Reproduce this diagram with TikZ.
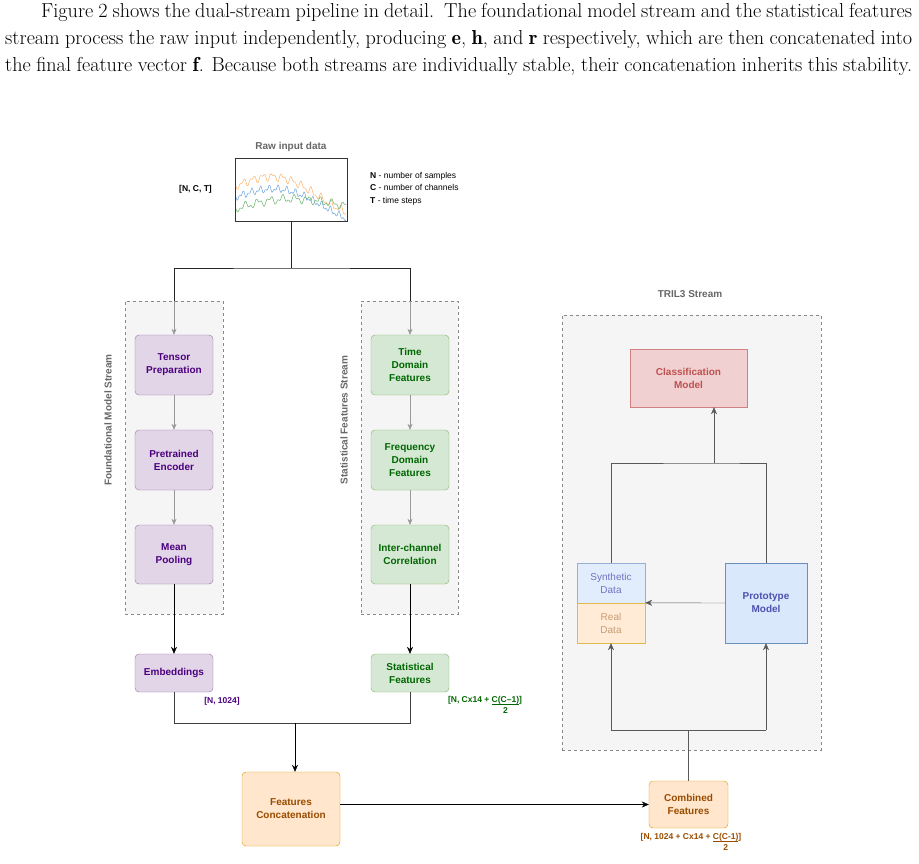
\documentclass[tikz,border=0pt]{standalone}
\usepackage{fontspec}
\setsansfont{Liberation Sans}
\usepackage{amsmath}
\usetikzlibrary{arrows.meta}
\definecolor{pf}{HTML}{E1D5E7}\definecolor{ps}{HTML}{9673A6}\definecolor{pt}{HTML}{4C0080}
\definecolor{gf}{HTML}{D5E8D4}\definecolor{gs}{HTML}{82B366}\definecolor{gt}{HTML}{006600}
\definecolor{of}{HTML}{FFE6CC}\definecolor{os}{HTML}{D79B00}\definecolor{ot}{HTML}{994C00}
\definecolor{bf}{HTML}{DAE8FC}\definecolor{bs}{HTML}{6C8EBF}\definecolor{bt}{HTML}{5050B0}
\definecolor{rf}{HTML}{F0D0D0}\definecolor{rs}{HTML}{D08080}\definecolor{rt}{HTML}{C05050}
\definecolor{cf}{HTML}{F5F5F5}\definecolor{cs}{HTML}{888888}
\tikzset{
 box/.style={draw, rounded corners=4pt, align=center, font=\sffamily\bfseries\fontsize{10}{13}\selectfont, inner sep=1pt},
 pbox/.style={box, fill=pf, draw=ps, text=pt},
 gbox/.style={box, fill=gf, draw=gs, text=gt},
 obox/.style={box, fill=of, draw=os, text=ot},
 cont/.style={draw=cs, dashed, fill=cf},
 garr/.style={draw=gray!80, -{Stealth[length=6pt,width=5pt]}},
 barr/.style={draw=black, -{Stealth[length=7pt,width=6pt]}},
 darr/.style={draw=black!65, -{Stealth[length=7pt,width=6pt]}},
 lbl/.style={font=\sffamily\bfseries\fontsize{8.5}{10}\selectfont, inner sep=0pt},
 ttl/.style={font=\sffamily\bfseries\fontsize{10}{12}\selectfont, text=black!60},
}
\begin{document}
\begin{tikzpicture}[x=1pt,y=-1pt]
\useasboundingbox (0,0) rectangle (919,863);
\node[anchor=north west, text width=907pt, align=justify, inner sep=0pt, font=\fontsize{20.2}{27}\selectfont] (para) at (5,3)
 {\hspace*{36pt}Figure 2 shows the dual-stream pipeline in detail.\enspace The foundational model stream and the statistical features stream process the raw input independently, producing $\mathbf{e}$, $\mathbf{h}$, and $\mathbf{r}$ respectively, which are then concatenated into the final feature vector $\mathbf{f}$. Because both streams are individually stable, their concatenation inherits this stability.};
% raw input
\node[ttl] (rawt) at (291,147) {Raw input data};
\node[draw=black!80, line width=0.8pt, minimum width=112pt, minimum height=63pt, inner sep=0pt] (raw) at (291,189.5) {};
\begin{scope}[line width=0.5pt]
\draw[orange!60] plot[domain=0:110, samples=111] ({236+\x},{186-14*sin(\x*2.2)+3*sin(\x*37)+2*sin(\x*71)+0.12*\x});
\draw[cyan!60!blue!60] plot[domain=0:110, samples=111] ({236+\x},{197-13*sin(\x*2.0)+2.5*sin(\x*41)+2*sin(\x*83)+0.12*\x});
\draw[green!50!black!60] plot[domain=0:110, samples=111] ({236+\x},{210-8*sin(\x*1.7+10)+3*sin(\x*29)+2*sin(\x*67)-0.06*\x});
\end{scope}
\node[lbl, anchor=east] (nct) at (212,189) {[N, C, T]};
\node[anchor=north west, align=left, inner sep=0pt, font=\sffamily\fontsize{8.5}{12.5}\selectfont] (legend) at (370,172) {\textbf{N} - number of samples\\\textbf{C} - number of channels\\\textbf{T} - time steps};
% containers
\node[cont, minimum width=98pt, minimum height=313pt, inner sep=0pt] (fc) at (174,457.5) {};
\node[cont, minimum width=97pt, minimum height=313pt, inner sep=0pt] (sc) at (409.5,457.5) {};
\node[ttl, rotate=90] (fcl) at (108,420) {Foundational Model Stream};
\node[ttl, rotate=90] (scl) at (344,420) {Statistical Features Stream};
\node[cont, minimum width=259pt, minimum height=435pt, inner sep=0pt] (tc) at (691.5,532.5) {};
\node[ttl] (tcl) at (690,294) {TRIL3 Stream};
% foundational
\node[pbox, minimum width=78pt, minimum height=60pt] (tp) at (174,365) {Tensor\\Preparation};
\node[pbox, minimum width=78pt, minimum height=60pt] (pe) at (174,460) {Pretrained\\Encoder};
\node[pbox, minimum width=78pt, minimum height=59pt] (mp) at (174,554.5) {Mean\\Pooling};
\node[pbox, minimum width=78pt, minimum height=38pt] (emb) at (174,673) {Embeddings};
\node[lbl, text=pt] (el) at (222,701) {[N, 1024]};
% statistical
\node[gbox, minimum width=78pt, minimum height=60pt] (td) at (410,365) {Time\\Domain\\Features};
\node[gbox, minimum width=78pt, minimum height=60pt] (fd) at (410,460) {Frequency\\Domain\\Features};
\node[gbox, minimum width=78pt, minimum height=59pt] (ic) at (410,554.5) {Inter-channel\\Correlation};
\node[gbox, minimum width=78pt, minimum height=38pt] (sf) at (410,673) {Statistical\\Features};
\node[lbl, text=gt, anchor=north] (sl) at (485,695) {[N, Cx14 + \begin{tabular}[t]{@{}c@{}}C(C--1)\\[-1pt]\hline\rule{0pt}{9pt}2\end{tabular}]};
% concat
\node[obox, minimum width=98pt, minimum height=74pt] (fcat) at (291,809) {Features\\Concatenation};
\node[obox, minimum width=79pt, minimum height=47pt] (cf) at (688.5,804.5) {Combined\\Features};
\node[lbl, text=ot, anchor=north] (cl) at (691,832) {[N, 1024 + Cx14 + \begin{tabular}[t]{@{}c@{}}C(C-1)\\[-1pt]\hline\rule{0pt}{9pt}2\end{tabular}]};
% TRIL3
\node[draw=rs, fill=rf, minimum width=117pt, minimum height=58pt, align=center, font=\sffamily\bfseries\fontsize{10}{13}\selectfont, text=rt] (cm) at (688.5,378) {Classification\\Model};
\node[draw=bs!70, fill=bf!80, minimum width=68pt, minimum height=40pt, inner sep=0pt, align=center, font=\sffamily\fontsize{10}{13}\selectfont, text=bt!80] (syn) at (611,583) {Synthetic\\Data};
\node[draw=os!70, fill=of!80, minimum width=68pt, minimum height=40pt, inner sep=0pt, align=center, font=\sffamily\fontsize{10}{13}\selectfont, text=ot!55] (real) at (611,623) {Real\\Data};
\node[draw=bs, fill=bf, minimum width=82pt, minimum height=80pt, align=center, font=\sffamily\bfseries\fontsize{10}{13}\selectfont, text=bt] (pm) at (766,603) {Prototype\\Model};
% connectors
\coordinate (j0) at (291,268);
\coordinate (fa) at (174,301);
\coordinate (sa) at (410,301);
\draw[black!85] (raw.south) -- (j0);
\draw[black!85] (fa) |- (j0) -| (sa);
\draw[garr] (fa) -- (tp.north);
\draw[garr] (sa) -- (td.north);
\draw[garr] (tp) -- (pe); \draw[garr] (pe) -- (mp);
\draw[garr] (td) -- (fd); \draw[garr] (fd) -- (ic);
\draw[barr] (mp) -- (emb); \draw[barr] (ic) -- (sf);
\coordinate (j1) at (295,723);
\draw[black!75] (emb.south) |- (j1) -| (sf.south);
\draw[barr] (j1) -- (j1 |- fcat.north);
\draw[barr] (fcat.east |- cf.west) -- (cf.west);
\coordinate (j2) at (688.5,730);
\draw[black!65] (cf.north) -- (j2);
\draw[black!65] (real.south |- j2) -- (pm.south |- j2);
\draw[darr] (real.south |- j2) -- (real.south);
\draw[darr] (pm.south |- j2) -- (pm.south);
\draw[darr] (pm.west) -- (real.north east);
\coordinate (j3) at (714,463);
\draw[black!65] (syn.north) |- (j3) -| (pm.north);
\draw[darr] (j3) -- (cm.south -| j3);
\end{tikzpicture}
\end{document}
